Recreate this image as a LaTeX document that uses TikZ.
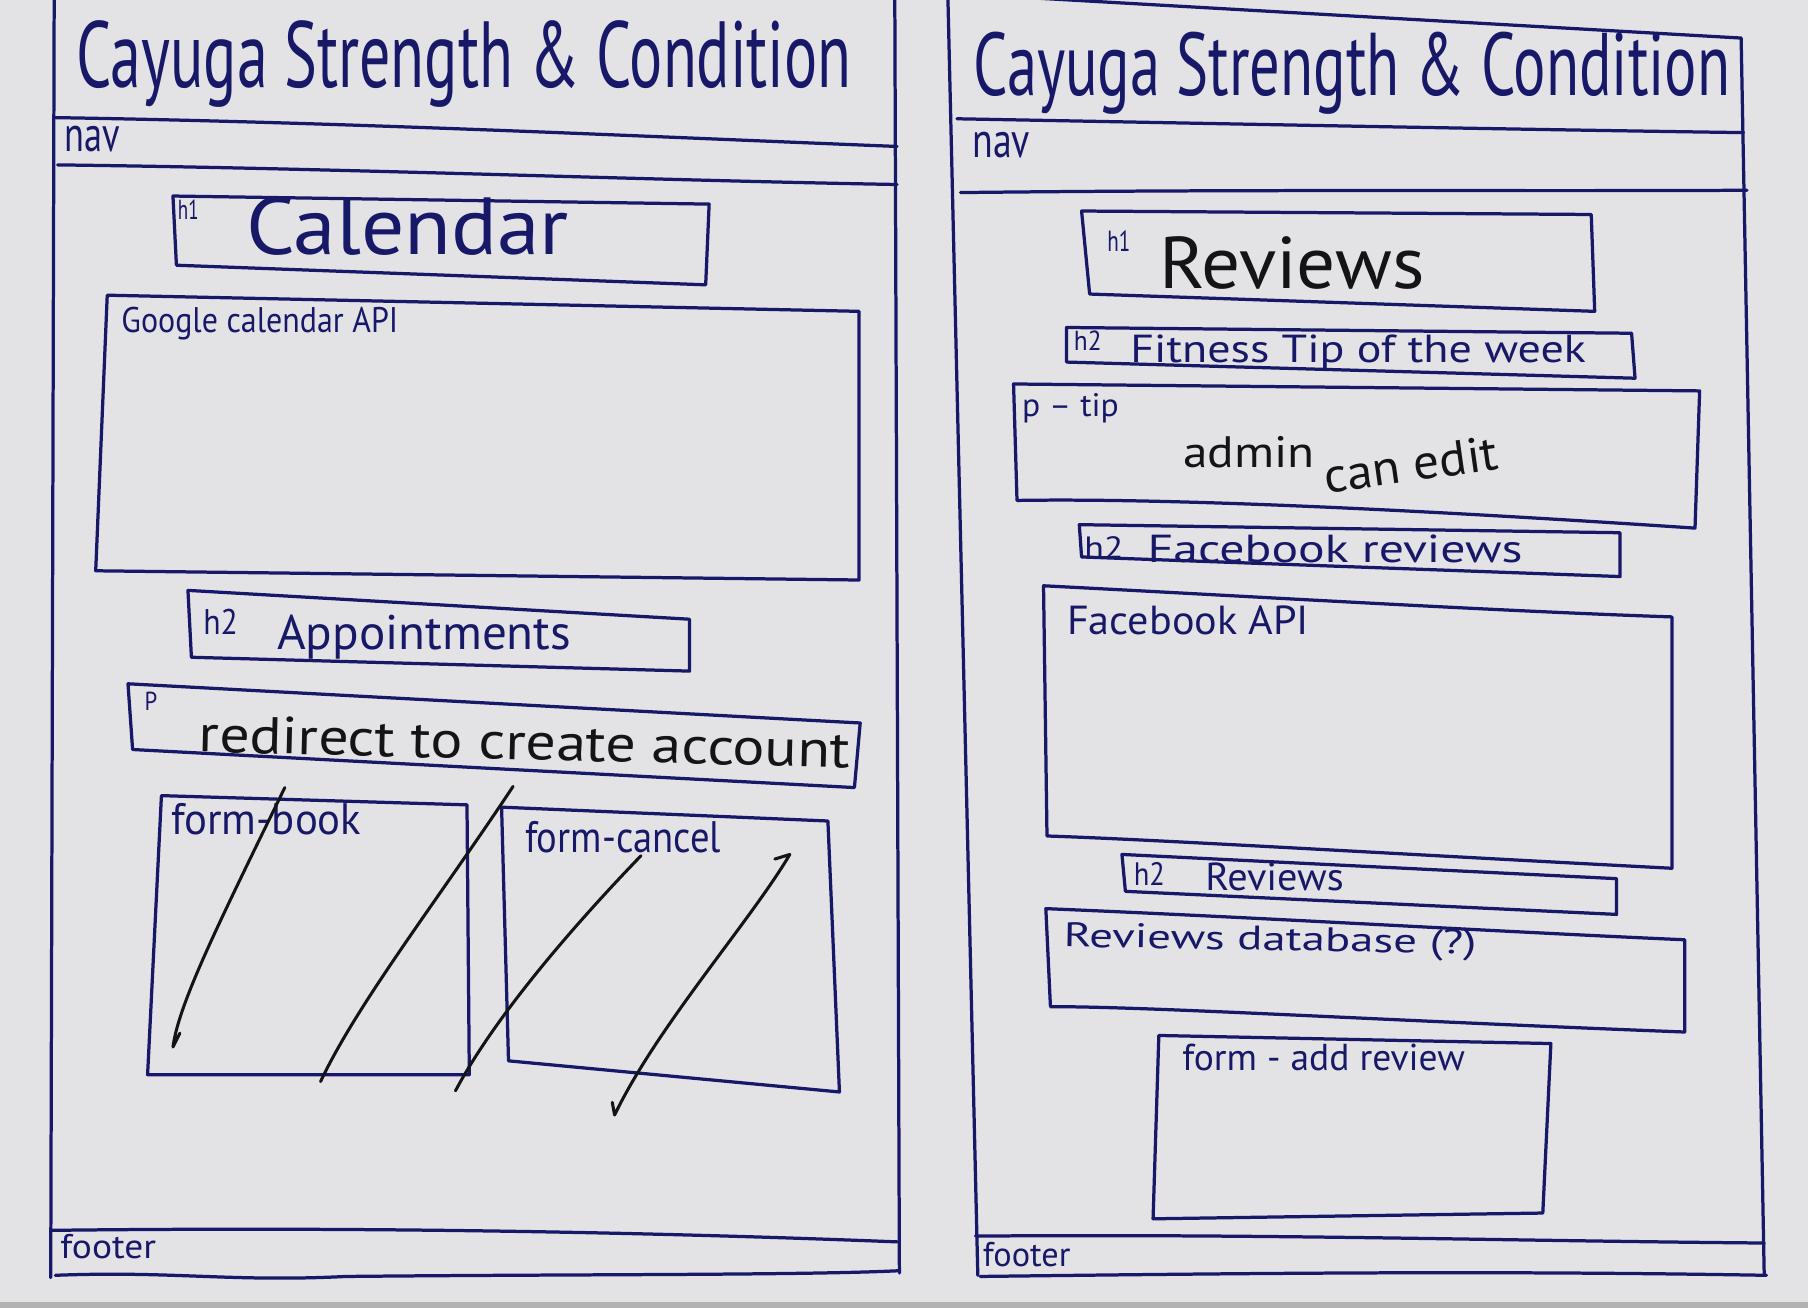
\documentclass[tikz,border=0pt]{standalone}
\usepackage{fontspec}
\usepackage{graphicx}
\setmainfont{PT Sans}
\definecolor{ink}{RGB}{24,24,105}
\definecolor{pen}{RGB}{20,20,22}
\definecolor{paper}{RGB}{227,227,229}
\newlength\ulen
\setlength\ulen{0.02cm}
\newcommand\fitt[3]{\resizebox{#1\ulen}{#2\ulen}{#3}}
\tikzset{
  frame/.style={draw=ink,line width=1.6pt,line join=round,line cap=round},
  cross/.style={draw=pen,line width=1.5pt,line cap=round,line join=round},
  lbl/.style={inner sep=0pt,anchor=base west,text=ink},
  blk/.style={inner sep=0pt,anchor=base west,text=pen}
}
\begin{document}
\begin{tikzpicture}[x=0.02cm,y=-0.02cm]
\useasboundingbox (0,0) rectangle (1568,1134);
\fill[paper] (0,0) rectangle (1568,1134);
\fill[black!30] (0,1129) rectangle (1568,1134);

% ---------------- left page ----------------
\draw[frame] (47,-5) -- (44,1108);
\draw[frame] (776,-5) -- (780,1104);
\draw[frame] (48,102) .. controls (300,106) and (550,118) .. (778,127);
\draw[frame] (50,143) .. controls (300,146) and (550,156) .. (778,160);
\draw[frame] (45,1067) .. controls (300,1064) and (550,1068) .. (778,1077);
\draw[frame] (48,1106) .. controls (150,1102) and (200,1112) .. (300,1107) .. controls (500,1105) and (700,1106) .. (780,1102);

\node[lbl] (tL) at (66,76) {\fitt{672}{58}{Cayuga Strength \& Condition}};
\node[lbl] (navL) at (56,131) {\fitt{48}{22}{nav}};

\draw[frame] (150,170) -- (615,177) -- (612,247) -- (153,230) -- cycle;
\node[lbl] (h1L) at (154,190) {\fitt{18}{17}{h1}};
\node[lbl] (cal) at (213,221) {\fitt{280}{50}{Calendar}};

\draw[frame] (93,256) -- (745,270) -- (745,503) -- (83,495) -- cycle;
\node[lbl] (gapi) at (105,288) {\fitt{240}{22}{Google calendar API}};

\draw[frame] (163,512) -- (598,537) -- (598,582) -- (166,570) -- cycle;
\node[lbl] (h2a) at (176,550) {\fitt{30}{22}{h2}};
\node[lbl] (appt) at (240,563) {\fitt{255}{30}{Appointments}};

\draw[frame] (111,593) -- (746,627) -- (741,683) -- (115,650) -- cycle;
\node[lbl] (pL) at (125,616) {\fitt{11}{16}{P}};
\node[blk,rotate=-1.4] (redir) at (172,652) {\fitt{565}{32}{redirect to create account}};

\draw[frame] (140,690) -- (405,698) -- (407,932) -- (128,932) -- cycle;
\node[lbl] (fb) at (148,724) {\fitt{165}{27}{form-book}};
\draw[frame] (435,700) -- (718,712) -- (728,947) -- (441,920) -- cycle;
\node[lbl] (fc) at (455,739) {\fitt{170}{27}{form-cancel}};

\draw[cross] (247,683) .. controls (190,800) and (155,870) .. (150,908) -- (156,896);
\draw[cross] (445,682) .. controls (380,780) and (310,870) .. (278,938);
\draw[cross] (556,742) .. controls (500,800) and (430,880) .. (395,946);
\draw[cross] (672,745) -- (685,741) .. controls (650,800) and (570,890) .. (533,967) -- (531,956);

\node[lbl] (ftL) at (52,1091) {\fitt{83}{21}{footer}};

% ---------------- right page ----------------
\draw[frame] (822,-6) -- (1510,33);
\draw[frame] (822,-5) -- (848,1106);
\draw[frame] (1510,33) -- (1530,1105);
\draw[frame] (830,103) .. controls (1100,108) and (1300,112) .. (1512,115);
\draw[frame] (833,167) .. controls (1100,164) and (1300,166) .. (1515,165);
\draw[frame] (846,1072) .. controls (1100,1070) and (1300,1076) .. (1530,1078);
\draw[frame] (850,1107) .. controls (1100,1104) and (1300,1102) .. (1532,1106);

\node[lbl] (tR) at (844,83) {\fitt{656}{55}{Cayuga Strength \& Condition}};
\node[lbl] (navR) at (843,137) {\fitt{50}{22}{nav}};

\draw[frame] (938,183) -- (1380,186) -- (1383,270) -- (945,255) -- cycle;
\node[lbl] (h1R) at (960,218) {\fitt{20}{18}{h1}};
\node[blk] (rev1) at (1005,250) {\fitt{230}{45}{Reviews}};

\draw[frame] (925,284) -- (1415,289) -- (1418,328) -- (925,314) -- cycle;
\node[lbl] (h2f) at (931,304) {\fitt{24}{17}{h2}};
\node[lbl] (tip) at (980,314) {\fitt{395}{24}{Fitness Tip of the week}};

\draw[frame] (879,333) -- (1474,339) -- (1470,458) .. controls (1200,440) and (1000,432) .. (882,434) -- cycle;
\node[lbl] (ptip) at (886,361) {\fitt{84}{20}{p – tip}};
\node[blk] (adm) at (1026,405) {\fitt{114}{27}{admin}};
\node[blk,rotate=8] (edit) at (1150,428) {\fitt{152}{30}{can edit}};

\draw[frame] (936,455) -- (1405,462) -- (1405,500) -- (938,483) -- cycle;
\node[lbl] (h2fb) at (940,484) {\fitt{34}{19}{h2}};
\node[lbl] (fbr) at (995,488) {\fitt{325}{24}{Facebook reviews}};

\draw[frame] (905,508) .. controls (1100,518) and (1300,530) .. (1450,535) -- (1450,753) .. controls (1200,740) and (1000,728) .. (908,725) -- cycle;
\node[lbl] (fbapi) at (925,550) {\fitt{210}{25}{Facebook API}};

\draw[frame] (973,741) -- (1402,762) -- (1402,793) -- (976,773) -- cycle;
\node[lbl] (h2r) at (983,768) {\fitt{27}{20}{h2}};
\node[lbl] (rev2) at (1045,772) {\fitt{120}{24}{Reviews}};

\draw[frame] (907,788) .. controls (1100,796) and (1300,808) .. (1461,815) -- (1461,895) .. controls (1200,885) and (1000,873) .. (911,873) -- cycle;
\node[lbl,rotate=-1] (db) at (922,821) {\fitt{358}{21}{Reviews database (?)}};

\draw[frame] (1005,898) -- (1345,905) -- (1338,1052) -- (1000,1057) -- cycle;
\node[lbl] (fadd) at (1025,928) {\fitt{245}{23}{form - add review}};

\node[lbl] (ftR) at (852,1098) {\fitt{76}{21}{footer}};
\end{tikzpicture}
\end{document}
